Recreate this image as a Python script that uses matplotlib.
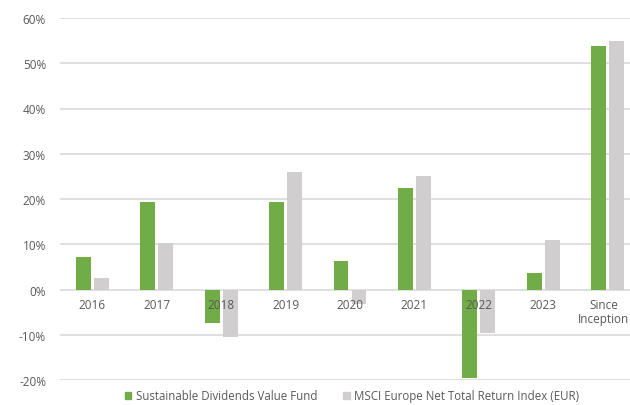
import numpy as np
import matplotlib.pyplot as plt
from matplotlib.patches import Patch

categories = ["2016", "2017", "2018", "2019", "2020", "2021", "2022", "2023", "Since\nInception"]
fund = [7.2, 19.4, -7.5, 19.4, 6.4, 22.4, -19.6, 3.6, 53.9]
index = [2.5, 10.2, -10.5, 26.0, -3.3, 25.1, -9.6, 11.0, 55.0]
yticks = [-20, -10, 0, 10, 20, 30, 40, 50, 60]

green = "#70ad47"
grey = "#d0cece"
text_col = "#595959"

plt.rcParams["font.family"] = ["Open Sans", "DejaVu Sans"]

fig = plt.figure(figsize=(6.3, 4.06), dpi=100)
# plot area runs a little past the right edge, like the exported chart
ax = fig.add_axes([60 / 630, 1 - 381 / 406, 580 / 630, 362 / 406])

x = np.arange(len(categories))
w = 0.23
ax.bar(x - 0.14, fund, w, color=green, zorder=3)
ax.bar(x + 0.14, index, w, color=grey, zorder=3)

ax.set_xlim(-0.5, len(categories) - 0.5)
ax.set_ylim(-20, 60)
ax.set_yticks(yticks)
ax.set_yticklabels([f"{t}%" for t in yticks])
ax.yaxis.grid(True, color="#d9d9d9", linewidth=1.2, zorder=0)

for s in ax.spines.values():
    s.set_visible(False)

# category labels sit just under the zero line, on top of the bars
ax.set_xticks([])
for xi, lab in zip(x, categories):
    dx = -3 if "\n" in lab else 0  # keep the last label inside the figure
    ax.annotate(lab, (xi, 0), xytext=(dx, -6), textcoords="offset points",
                ha="center", va="top", fontsize=8.5, color=text_col,
                linespacing=1.1, zorder=5, annotation_clip=False)

ax.tick_params(axis="y", length=0, colors=text_col, labelsize=8.5, pad=10)

handles = [Patch(color=green), Patch(color=grey)]
fig.legend(handles, ["Sustainable Dividends Value Fund", "MSCI Europe Net Total Return Index (EUR)"],
           loc="center", bbox_to_anchor=(352 / 630, 1 - 397 / 406), ncol=2, frameon=False,
           fontsize=8.3, labelcolor=text_col, handlelength=0.6, handleheight=0.6,
           handletextpad=0.4, columnspacing=2.2, borderpad=0.1)

fig.savefig("out.png", dpi=100)
